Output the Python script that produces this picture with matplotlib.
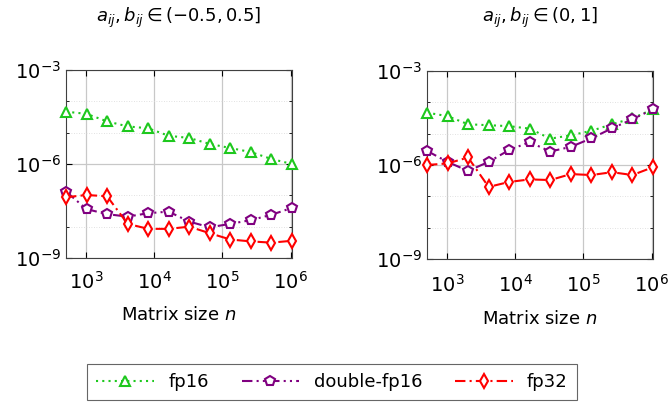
import numpy as np
import matplotlib
matplotlib.use("Agg")
from matplotlib import pyplot as plt
from matplotlib import transforms
from matplotlib.ticker import FixedLocator, LogLocator, NullFormatter

# matrix sizes n = 2^9 .. 2^20
sizes = [2 ** k for k in range(9, 21)]

# log10 of the error
left_fp16 = [-4.33, -4.40, -4.64, -4.80, -4.86, -5.10, -5.17, -5.36, -5.49, -5.62, -5.84, -6.00]
left_dfp16 = [-6.88, -7.44, -7.60, -7.68, -7.57, -7.52, -7.84, -8.02, -7.91, -7.79, -7.62, -7.40]
left_fp32 = [-7.06, -6.99, -7.03, -7.91, -8.07, -8.07, -8.00, -8.21, -8.41, -8.47, -8.51, -8.45]

right_fp16 = [-4.33, -4.44, -4.70, -4.73, -4.76, -4.84, -5.16, -5.05, -4.91, -4.70, -4.51, -4.22]
right_dfp16 = [-5.55, -5.90, -6.19, -5.90, -5.52, -5.27, -5.57, -5.42, -5.15, -4.83, -4.54, -4.22]
right_fp32 = [-6.00, -5.95, -5.76, -6.70, -6.54, -6.46, -6.48, -6.29, -6.32, -6.23, -6.32, -6.07]

titles = [r"$a_{ij}, b_{ij} \in (-0.5, 0.5]$", r"$a_{ij}, b_{ij} \in (0, 1]$"]
labels = ["fp16", "double-fp16", "fp32"]

plt.rcParams["mathtext.fontset"] = "dejavusans"
plt.rcParams["font.size"] = 12

W, H = 668, 405
fig = plt.figure(figsize=(W / 100, H / 100), dpi=100)

def px_axes(x0, x1, y0, y1):
    return fig.add_axes([x0 / W, 1 - y1 / H, (x1 - x0) / W, (y1 - y0) / H])

ax1 = px_axes(66, 292, 70, 258)
ax2 = px_axes(427, 653, 71, 259)

styles = [
    dict(color="#1ec81e", ls=(0, (1, 2)), marker="^"),
    dict(color="#800080", ls=(0, (5, 2, 1, 2, 1, 2)), marker="p"),
    dict(color="#ff0000", ls=(0, (5, 2, 1, 2)), marker="d"),
]

handles = []
for ax, series, title, pad in zip([ax1, ax2],
                                  [[left_fp16, left_dfp16, left_fp32],
                                   [right_fp16, right_dfp16, right_fp32]],
                                  titles, [9, 11]):
    handles = []
    for vals, st, lab in zip(series, styles, labels):
        h, = ax.plot(sizes, 10 ** np.array(vals), color=st["color"], ls=st["ls"],
                     lw=1.5, marker=st["marker"], ms=7.5, mfc="white", mew=1.5,
                     label=lab, clip_on=False, zorder=3)
        handles.append(h)
    ax.set_xscale("log")
    ax.set_yscale("log")
    ax.set_xlim(sizes[0], sizes[-1])
    ax.set_ylim(1e-9, 1e-3)
    ax.yaxis.set_major_locator(FixedLocator([1e-9, 1e-6, 1e-3]))
    ax.yaxis.set_minor_locator(FixedLocator([1e-8, 1e-7, 1e-5, 1e-4]))
    ax.yaxis.set_minor_formatter(NullFormatter())
    ax.xaxis.set_major_locator(FixedLocator([1e3, 1e4, 1e5, 1e6]))
    ax.xaxis.set_minor_locator(LogLocator(base=10, subs=np.arange(2, 10)))
    ax.xaxis.set_minor_formatter(NullFormatter())
    ax.tick_params(which="both", direction="in", top=True, right=True, labelsize=14)
    ax.tick_params(which="major", length=4, width=0.8)
    ax.tick_params(which="minor", length=2.5, width=0.6)
    ax.tick_params(axis="x", pad=pad)
    ax.grid(True, which="major", color="#c8c8c8", lw=0.9)
    ax.grid(True, which="minor", color="#d8d8d8", lw=0.6, ls=(0, (1, 2)))
    ax.set_axisbelow(True)
    for sp in ax.spines.values():
        sp.set_color("#404040")
    ax.set_xlabel(r"Matrix size $n$", fontsize=13, labelpad=10)
    trans = transforms.blended_transform_factory(ax.transAxes, fig.transFigure)
    fig.text(0.5, 1 - 18 / H, title, transform=trans,
             ha="center", va="center", fontsize=13)

leg = fig.legend(handles=handles, loc="center", bbox_to_anchor=(332 / W, 1 - 382 / H),
                 ncol=3, frameon=True, fancybox=False, edgecolor="#404040",
                 fontsize=13, handlelength=3.2, columnspacing=1.8, borderpad=0.5)
leg.get_frame().set_linewidth(0.8)

fig.savefig("out.png", dpi=100)
